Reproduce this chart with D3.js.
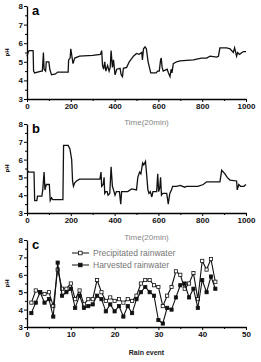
<!DOCTYPE html>
<html>
<head>
<meta charset="utf-8">
<script src="https://cdn.jsdelivr.net/npm/d3@7"></script>
<style>
  body { margin: 0; background: #fff; }
  text { font-family: "Liberation Sans", Arial, sans-serif; }
</style>
</head>
<body>
<script>
// panel a: pH vs time (20 min steps)
const aTime = [0,5,10,28,30,35,65,70,75,78,85,88,100,104,112,130,140,188,190,197,200,205,210,218,240,300,335,341,345,350,355,360,368,375,380,384,390,395,402,410,425,430,436,440,455,467,486,500,512,524,527,532,539,545,553,559,565,590,596,604,610,613,617,622,640,646,653,658,662,668,683,699,760,775,797,820,836,866,874,881,912,927,942,948,957,962,970,988,1000];
const aPH   = [5.3,5.5,5.6,5.6,4.5,4.4,4.5,4.5,5.5,4.6,4.5,5.0,5.0,4.6,4.3,4.35,4.45,4.45,5.1,5.2,5.7,5.3,4.9,5.2,5.3,5.35,5.4,5.6,4.8,4.6,5.0,4.5,4.8,4.5,4.7,5.6,4.7,5.1,4.3,4.6,4.65,4.3,4.2,4.65,4.7,5.0,5.3,5.45,5.4,5.5,5.1,5.7,5.8,5.7,5.0,4.7,4.4,4.4,4.5,4.5,5.1,5.2,4.7,4.5,4.6,4.4,4.2,4.6,4.4,4.9,5.0,5.05,5.1,5.15,5.2,5.2,5.3,5.25,5.3,5.75,5.75,5.7,5.5,5.75,5.3,5.5,5.4,5.55,5.55];

// panel b
const bTime = [0,8,32,35,45,48,68,72,78,82,88,102,106,112,118,164,167,188,196,204,208,212,218,226,240,333,336,338,341,348,352,355,360,366,370,378,384,390,395,402,408,422,428,432,460,478,500,506,514,520,528,533,541,546,552,557,563,570,575,592,597,601,606,610,614,620,638,645,652,660,665,683,700,720,728,780,805,820,881,889,904,914,927,957,960,967,975,990,1000];
const bPH   = [5.4,5.3,5.3,3.7,3.7,3.95,3.95,4.3,5.3,4.3,4.6,4.6,3.7,3.85,3.75,3.75,6.8,6.8,6.6,6.0,4.8,4.5,4.7,4.8,4.9,4.9,5.15,5.3,4.5,4.6,5.0,4.1,4.2,4.2,4.0,4.1,5.6,4.5,4.3,4.0,4.2,4.2,3.5,4.2,4.2,4.35,4.3,5.0,5.3,5.2,5.8,5.7,5.9,5.2,4.3,4.1,4.2,3.9,4.2,4.2,5.2,4.2,4.4,5.0,4.0,4.1,4.1,3.5,4.1,4.3,4.5,4.5,4.55,4.45,4.5,4.5,4.6,4.75,4.75,5.4,5.2,5.0,4.85,4.8,4.3,4.6,4.5,4.5,4.6];

// panel c: rain events
const rainEvent = d3.range(1, 44);
const precipPH  = [4.4,5.1,5.0,4.9,5.0,4.2,6.3,5.2,5.2,5.5,4.6,5.1,4.3,4.6,4.6,5.7,5.0,4.5,4.7,4.5,4.6,4.4,4.6,4.5,4.8,5.5,5.7,5.7,5.4,5.3,4.2,4.8,5.3,6.2,6.0,5.2,5.5,6.1,4.6,6.8,6.3,6.9,5.6];
const harvestPH = [3.8,4.4,5.0,4.4,4.6,3.6,6.7,4.8,5.0,5.2,4.1,4.8,4.1,4.2,4.3,4.8,4.6,3.9,4.3,3.9,4.2,3.6,4.2,3.8,4.6,5.0,5.3,5.0,4.8,3.4,3.2,4.1,4.0,4.7,5.4,5.5,4.7,5.2,4.1,5.7,5.0,5.9,5.2];

const yTicks = [3, 4, 5, 6, 7, 8];
const timeTicks = [0, 200, 400, 600, 800, 1000];
const eventTicks = [0, 10, 20, 30, 40, 50];

const W = 261, H = 362;
const svg = d3.select("body").append("svg")
    .attr("width", W)
    .attr("height", H);

const left = 27, right = 246;
const fmt = d3.format("d");

function drawAxes(x, y, ticks, minorX, panel, titleText, titleY, isEvent) {
  // minor ticks
  svg.append("g")
    .attr("transform", `translate(0,${y.range()[0]})`)
    .call(d3.axisBottom(x).tickValues(minorX).tickSize(2).tickFormat(""))
    .call(g => g.select(".domain").remove());
  svg.append("g")
    .attr("transform", `translate(${left},0)`)
    .call(d3.axisLeft(y).tickValues(d3.range(3.5, 8, 1)).tickSize(2).tickFormat(""))
    .call(g => g.select(".domain").remove());

  const gx = svg.append("g")
    .attr("transform", `translate(0,${y.range()[0]})`)
    .call(d3.axisBottom(x).tickValues(ticks).tickFormat(fmt).tickSize(3).tickPadding(1).tickSizeOuter(0));
  gx.selectAll("text").attr("font-size", 8).attr("font-weight", "bold").attr("fill", "#111");

  const gy = svg.append("g")
    .attr("transform", `translate(${left},0)`)
    .call(d3.axisLeft(y).tickValues(yTicks).tickFormat(fmt).tickSize(3).tickPadding(1).tickSizeOuter(0));
  gy.selectAll("text").attr("font-size", 8).attr("font-weight", "bold").attr("fill", "#111");

  svg.selectAll(".domain").attr("stroke-width", 1.3);

  svg.append("text")
    .attr("transform", `translate(9,${(y.range()[0] + y.range()[1]) / 2}) rotate(-90)`)
    .attr("text-anchor", "middle")
    .attr("font-size", 6)
    .attr("font-weight", "bold")
    .text("pH");

  svg.append("text")
    .attr("x", 32)
    .attr("y", y.range()[1] + 9)
    .attr("font-size", 13)
    .attr("font-weight", "bold")
    .text(panel);

  svg.append("text")
    .attr("x", (left + right) / 2 + 10)
    .attr("y", titleY)
    .attr("text-anchor", "middle")
    .attr("font-size", isEvent ? 7 : 8)
    .attr("font-weight", isEvent ? "bold" : "normal")
    .attr("fill", isEvent ? "#222" : "#888")
    .text(titleText);
}

// panel a
const xa = d3.scaleLinear().domain([0, 1000]).range([left, right]);
const ya = d3.scaleLinear().domain([3, 8]).range([99, 6]);
drawAxes(xa, ya, timeTicks, d3.range(100, 1000, 200), "a", "Time(20min)", 125, false);
svg.append("path")
    .datum(d3.zip(aTime, aPH))
    .attr("fill", "none")
    .attr("stroke", "#111")
    .attr("stroke-width", 1.3)
    .attr("d", d3.line().x(d => xa(d[0])).y(d => ya(d[1])));

// panel b
const yb = d3.scaleLinear().domain([3, 8]).range([213, 124]);
drawAxes(xa, yb, timeTicks, d3.range(100, 1000, 200), "b", "Time(20min)", 240, false);
svg.append("path")
    .datum(d3.zip(bTime, bPH))
    .attr("fill", "none")
    .attr("stroke", "#111")
    .attr("stroke-width", 1.3)
    .attr("d", d3.line().x(d => xa(d[0])).y(d => yb(d[1])));

// panel c
const xc = d3.scaleLinear().domain([0, 50]).range([left, right]);
const yc = d3.scaleLinear().domain([3, 8]).range([327, 240]);
drawAxes(xc, yc, eventTicks, d3.range(5, 50, 10), "c", "Rain event", 355, true);

const lineC = d3.line().x(d => xc(d[0])).y(d => yc(d[1]));
const series = [
  {name: "Precipitated rainwater", vals: precipPH, fill: "#fff"},
  {name: "Harvested rainwater", vals: harvestPH, fill: "#111"}
];
series.forEach(s => {
  const pts = d3.zip(rainEvent, s.vals);
  svg.append("path")
      .datum(pts)
      .attr("fill", "none")
      .attr("stroke", "#111")
      .attr("stroke-width", 1.1)
      .attr("d", lineC);
  svg.append("g").selectAll("rect")
    .data(pts)
    .join("rect")
      .attr("x", d => xc(d[0]) - 1.6)
      .attr("y", d => yc(d[1]) - 1.6)
      .attr("width", 3.2)
      .attr("height", 3.2)
      .attr("fill", s.fill)
      .attr("stroke", "#111")
      .attr("stroke-width", 0.8);
});

// legend
series.forEach((s, i) => {
  const ly = 253 + i * 12;
  svg.append("line")
    .attr("x1", 72).attr("x2", 89)
    .attr("y1", ly).attr("y2", ly)
    .attr("stroke", "#111").attr("stroke-width", 1);
  svg.append("rect")
    .attr("x", 78.5).attr("y", ly - 1.8)
    .attr("width", 3.6).attr("height", 3.6)
    .attr("fill", s.fill).attr("stroke", "#111").attr("stroke-width", 0.8);
  svg.append("text")
    .attr("x", 93).attr("y", ly + 3)
    .attr("font-size", 8.5)
    .attr("fill", "#777")
    .text(s.name);
});
</script>
</body>
</html>
